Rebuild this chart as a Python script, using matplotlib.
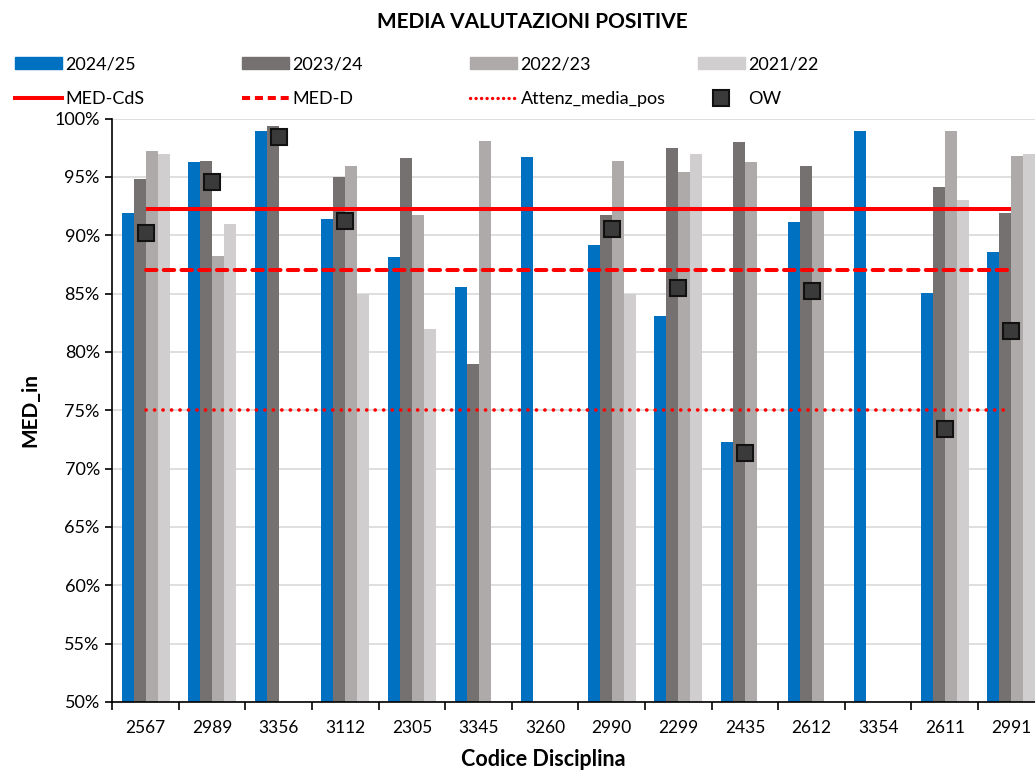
import numpy as np
import matplotlib
matplotlib.use("Agg")
import matplotlib.pyplot as plt
from matplotlib.patches import Patch
from matplotlib.lines import Line2D

plt.rcParams['font.family'] = ['Lato', 'DejaVu Sans']

codici = ['2567', '2989', '3356', '3112', '2305', '3345', '3260',
          '2990', '2299', '2435', '2612', '3354', '2611', '2991']
nan = np.nan
a2425 = [91.9, 96.3, 98.9, 91.35, 88.1, 85.6, 96.7, 89.2, 83.1, 72.25, 91.1, 98.9, 85.05, 88.6]
a2324 = [94.8, 96.4, 99.4, 95.0, 96.6, 79.0, nan, 91.7, 97.5, 98.0, 95.9, nan, 94.1, 91.9]
a2223 = [97.2, 88.2, nan, 95.9, 91.7, 98.1, nan, 96.4, 95.4, 96.3, 92.2, nan, 98.9, 96.8]
a2122 = [97.0, 91.0, nan, 85.0, 82.0, nan, nan, 85.0, 97.0, nan, nan, nan, 93.0, 97.0]
ow = [90.2, 94.6, 98.4, 91.2, nan, nan, nan, 90.5, 85.45, 71.3, 85.2, nan, 73.4, 81.8]
med_cds = [92.25] * 14
med_d = [87.0] * 14
attenz = [75.0] * 14

serie = [('2024/25', a2425, '#0070C0'), ('2023/24', a2324, '#767171'),
         ('2022/23', a2223, '#AEAAAA'), ('2021/22', a2122, '#D0CECE')]

fig = plt.figure(figsize=(10.35, 7.7), dpi=100)
ax = fig.add_axes([112.3 / 1035, 1 - 702 / 770, 932.4 / 1035, (702 - 118.5) / 770])

x = np.arange(len(codici))
w = 0.18
for k, (nome, vals, col) in enumerate(serie):
    v = np.array(vals, dtype=float)
    ax.bar(x + (k - 1.5) * w, v - 50, width=w, bottom=50, color=col, zorder=2)

ax.plot(x, med_cds, color='#FF0000', lw=2.9, zorder=3, solid_capstyle='butt')
ax.plot(x, med_d, color='#FF0000', lw=2.9, zorder=3, dashes=(2.6, 1.8), dash_capstyle='round')
ax.plot(x, attenz, color='#FF0000', lw=2.6, zorder=3, dashes=(0.05, 2.3), dash_capstyle='round')
ax.plot(x, ow, ls='none', marker='s', ms=12, mfc='#3A3A3A', mec='#111111', mew=1.5, zorder=4)

ax.set_xlim(-0.5, len(codici) - 0.5)
ax.set_ylim(50, 100)
ax.set_yticks(np.arange(50, 101, 5))
ax.set_yticklabels([f'{t}%' for t in range(50, 101, 5)], fontsize=13)
ax.yaxis.grid(True, color='#D9D9D9', lw=1.2, zorder=0)
ax.set_axisbelow(True)

ax.set_xticks(np.arange(-0.5, len(codici), 1))
ax.set_xticklabels([])
ax.set_xticks(x, minor=True)
ax.set_xticklabels(codici, minor=True, fontsize=12.5)
ax.tick_params(axis='x', which='major', length=6, direction='out', width=1.2)
ax.tick_params(axis='x', which='minor', length=0, pad=13)
ax.tick_params(axis='y', length=5, width=1.2, pad=4)

for s in ['top', 'right']:
    ax.spines[s].set_visible(False)
for s in ['left', 'bottom']:
    ax.spines[s].set_linewidth(1.2)

ax.set_ylabel('MED_in', fontsize=15, fontweight='bold', labelpad=10)
fig.text(543 / 1035, 1 - 760 / 770, 'Codice Disciplina', fontsize=15.5, fontweight='bold',
         ha='center', va='center')
fig.text(532 / 1035, 1 - 22 / 770, 'MEDIA VALUTAZIONI POSITIVE', fontsize=15, fontweight='bold',
         ha='center', va='center')

# legenda: due righe, quattro colonne
handles = [Patch(color=c) for _, _, c in serie] + [
    Line2D([], [], color='#FF0000', lw=2.9),
    Line2D([], [], color='#FF0000', lw=2.9, dashes=(2.0, 1.2)),
    Line2D([], [], color='#FF0000', lw=2.4, dashes=(0.05, 1.6), dash_capstyle='round'),
    Line2D([], [], ls='none', marker='s', ms=11, mfc='#3A3A3A', mec='#111111', mew=1.5)]
labels = [n for n, _, _ in serie] + ['MED-CdS', 'MED-D', 'Attenz_media_pos', 'OW']
xcol = [15, 242, 470, 698]
yrow = [64, 99]
for i, (h, l) in enumerate(zip(handles, labels)):
    r, c = divmod(i, 4)
    leg = fig.legend([h], [l], loc='center left',
                     bbox_to_anchor=(xcol[c] / 1035, 1 - yrow[r] / 770),
                     frameon=False, fontsize=13, borderpad=0, borderaxespad=0,
                     handlelength=2.6, handleheight=0.65, handletextpad=0.2)

fig.savefig('out.png', dpi=100)
